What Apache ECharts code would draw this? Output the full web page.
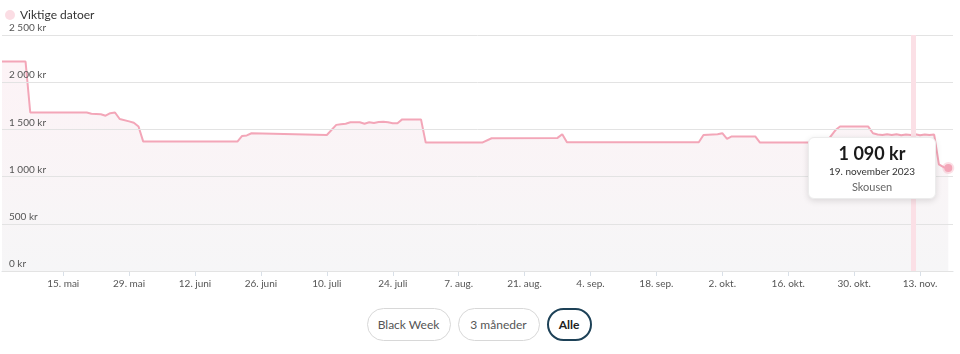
<!DOCTYPE html>
<html>
<head>
<meta charset="UTF-8" />
<title>Prishistorikk</title>
<script src="https://cdn.jsdelivr.net/npm/echarts@6/dist/echarts.min.js"></script>
<style>
  body { margin: 0; background: #fff; font-family: Lato, sans-serif; }
  #main { width: 960px; height: 300px; }
  #knapper { position: absolute; top: 308px; left: 0; width: 958px; display: flex; justify-content: center; gap: 7px; }
  #knapper button { height: 33px; border-radius: 17px; border: 1px solid #d8d8d8; background: #fff;
    font-family: Lato, sans-serif; font-size: 12px; color: #555; padding: 0; }
  #knapper button.aktiv { border: 2px solid #1d4157; font-weight: bold; color: #222; }
</style>
</head>
<body>

<div id="main"></div>
<div id="knapper">
  <button style="width:84px">Black Week</button>
  <button style="width:82px">3 måneder</button>
  <button style="width:45px" class="aktiv">Alle</button>
</div>

<script type="text/javascript">

    // prisdata (dato, pris i kr)
    var priceDates = [
        '2023-05-02', '2023-05-07', '2023-05-08', '2023-05-20', '2023-05-21', '2023-05-23', '2023-05-24',
        '2023-05-25', '2023-05-26', '2023-05-27', '2023-05-29', '2023-05-30', '2023-05-31', '2023-06-01',
        '2023-06-21', '2023-06-22', '2023-06-23', '2023-06-24', '2023-07-10', '2023-07-12', '2023-07-13',
        '2023-07-14', '2023-07-15', '2023-07-16', '2023-07-17', '2023-07-18', '2023-07-19', '2023-07-20',
        '2023-07-21', '2023-07-22', '2023-07-23', '2023-07-24', '2023-07-25', '2023-07-26', '2023-07-30',
        '2023-07-31', '2023-08-12', '2023-08-14', '2023-08-28', '2023-08-29', '2023-08-30', '2023-09-27',
        '2023-09-28', '2023-10-01', '2023-10-02', '2023-10-03', '2023-10-04', '2023-10-09', '2023-10-10',
        '2023-10-24', '2023-10-26', '2023-10-27', '2023-11-02', '2023-11-03', '2023-11-04', '2023-11-05',
        '2023-11-06', '2023-11-07', '2023-11-08', '2023-11-09', '2023-11-10', '2023-11-11', '2023-11-12',
        '2023-11-13', '2023-11-14', '2023-11-15', '2023-11-16', '2023-11-17', '2023-11-18', '2023-11-19'
    ];
    var priceValues = [
        2219, 2219, 1679, 1679, 1665, 1660, 1645,
        1672, 1679, 1610, 1585, 1570, 1530, 1371,
        1371, 1431, 1436, 1459, 1441, 1548, 1555,
        1560, 1575, 1576, 1576, 1560, 1576, 1568,
        1578, 1582, 1575, 1566, 1566, 1606, 1606,
        1360, 1360, 1406, 1410, 1449, 1364, 1364,
        1441, 1449, 1460, 1400, 1425, 1425, 1360,
        1360, 1490, 1530, 1530, 1459, 1447, 1440,
        1449, 1440, 1448, 1438, 1447, 1440, 1449,
        1439, 1447, 1440, 1445, 1130, 1100, 1090
    ];
    var shopName = 'Skousen';

    // viktige datoer
    var importantDates = ['2023-11-11T12:00'];

    // x-akse
    var axisStart = '2023-05-02';
    var axisEnd = '2023-11-20';
    var tickDates = ['2023-05-15', '2023-05-29', '2023-06-12', '2023-06-26', '2023-07-10', '2023-07-24', '2023-08-07',
        '2023-08-21', '2023-09-04', '2023-09-18', '2023-10-02', '2023-10-16', '2023-10-30', '2023-11-13'];
    var tickLabels = ['15. mai', '29. mai', '12. juni', '26. juni', '10. juli', '24. juli', '7. aug.',
        '21. aug.', '4. sep.', '18. sep.', '2. okt.', '16. okt.', '30. okt.', '13. nov.'];

    var monthNames = ['januar', 'februar', 'mars', 'april', 'mai', 'juni', 'juli', 'august',
        'september', 'oktober', 'november', 'desember'];

    // dager fra 1. mai (x-aksen er en vanlig tallakse)
    var dayZero = Date.UTC(2023, 4, 1);
    function toDay(s) {
        var p = s.split(/[-T:]/);
        var t = Date.UTC(+p[0], +p[1] - 1, +p[2], +(p[3] || 0), +(p[4] || 0));
        return (t - dayZero) / 86400000;
    }

    function kr(v) {
        return String(v).replace(/\B(?=(\d{3})+(?!\d))/g, ' ') + ' kr';
    }

    var tickDays = tickDates.map(toDay);
    var seriesData = priceDates.map(function (d, i) {
        return [toDay(d), priceValues[i]];
    });
    var last = seriesData.length - 1;
    seriesData[last] = {
        value: seriesData[last],
        symbolSize: 8,
        itemStyle: { color: '#f3a6b8', borderColor: 'rgba(243,166,184,0.35)', borderWidth: 4 }
    };

    var myChart = echarts.init(document.getElementById('main'));

    var option = {
        animation: false,
        textStyle: { fontFamily: 'Lato' },
        legend: {
            data: ['Viktige datoer'],
            left: 0,
            top: 4,
            icon: 'circle',
            itemWidth: 10,
            itemHeight: 10,
            itemGap: 4,
            textStyle: { fontSize: 12, color: '#333', fontFamily: 'Lato' }
        },
        grid: { left: 2, right: 7, top: 35, bottom: 29 },
        tooltip: {
            trigger: 'item',
            triggerOn: 'none',
            alwaysShowContent: true,
            backgroundColor: '#fff',
            borderColor: '#ececec',
            borderWidth: 1,
            padding: [5, 10, 4, 10],
            extraCssText: 'border-radius:6px;box-shadow:0 2px 6px rgba(0,0,0,0.12);width:106px;',
            position: function () { return [808, 137]; },
            formatter: function (p) {
                var p2 = priceDates[p.dataIndex].split('-');
                return '<div style="text-align:center;font-family:Lato;line-height:15px">' +
                    '<div style="font-size:18px;font-weight:bold;color:#1a1a1a;line-height:21px">' + kr(p.value[1]) + '</div>' +
                    '<div style="font-size:10px;color:#333">' + (+p2[2]) + '. ' + monthNames[+p2[1] - 1] + ' ' + p2[0] + '</div>' +
                    '<div style="font-size:11px;color:#666">' + shopName + '</div></div>';
            }
        },
        xAxis: {
            type: 'value',
            min: toDay(axisStart),
            max: toDay(axisEnd),
            axisLine: { lineStyle: { color: '#d9e0e8' } },
            axisTick: { customValues: tickDays, length: 5, lineStyle: { color: '#d9e0e8' } },
            axisLabel: {
                customValues: tickDays,
                color: '#555',
                fontSize: 10,
                margin: 8,
                formatter: function (v) {
                    var i = tickDays.indexOf(v);
                    return i >= 0 ? tickLabels[i] : '';
                }
            },
            splitLine: { show: false }
        },
        yAxis: {
            type: 'value',
            min: 0,
            max: 2500,
            interval: 500,
            z: 4,
            axisLine: { show: false },
            axisTick: { show: false },
            axisLabel: {
                inside: true,
                margin: 7,
                verticalAlign: 'bottom',
                padding: [0, 0, 2, 0],
                color: '#555',
                fontSize: 10,
                formatter: function (v) { return kr(v); }
            },
            splitLine: { lineStyle: { color: '#e3e3e3' } }
        },
        series: [
            {
                name: 'Pris',
                type: 'line',
                data: seriesData,
                symbol: 'circle',
                symbolSize: 0,
                showAllSymbol: true,
                lineStyle: { color: '#f3a6b8', width: 2 },
                itemStyle: { color: '#f3a6b8' },
                areaStyle: {
                    opacity: 1,
                    color: new echarts.graphic.LinearGradient(0, 0, 0, 1, [
                        { offset: 0, color: '#fdf3f6' },
                        { offset: 1, color: '#f6f6f7' }
                    ])
                },
                emphasis: { disabled: true },
                z: 3
            },
            {
                name: 'Viktige datoer',
                type: 'line',
                data: [],
                itemStyle: { color: '#fbdde4' },
                markLine: {
                    silent: true,
                    symbol: 'none',
                    label: { show: false },
                    lineStyle: { color: '#fbe0e6', width: 5, type: 'solid' },
                    data: importantDates.map(function (d) { return { xAxis: toDay(d) }; })
                },
                z: 2
            }
        ]
    };

    myChart.setOption(option);
    myChart.dispatchAction({ type: 'showTip', seriesIndex: 0, dataIndex: last });

</script>
</body>
</html>
